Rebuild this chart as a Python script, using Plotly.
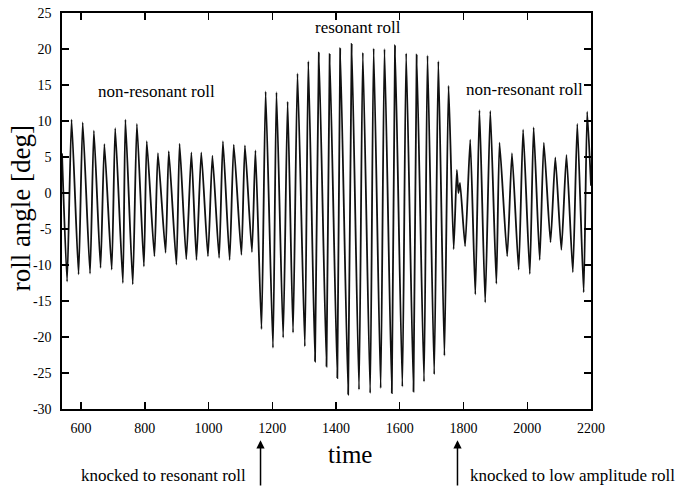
import plotly.graph_objects as go

# ---------------- data ----------------
peak_times = [570, 605, 640, 673, 707, 739, 775, 806, 841, 875, 909, 946, 977, 1012,
              1045, 1079, 1114, 1147, 1179, 1213, 1248, 1279, 1313, 1346, 1380, 1413,
              1449, 1484, 1518, 1552, 1585, 1620, 1653, 1687, 1721, 1753, 1779, 1821,
              1850, 1884, 1913, 1952, 1987, 2020, 2052, 2088, 2123, 2157, 2188]
peak_values = [10.2, 9.8, 8.65, 6.8, 9.0, 10.2, 9.6, 7.2, 5.55, 5.8, 6.85, 5.65, 5.65, 5.2,
               7.2, 6.7, 6.6, 5.9, 14.1, 14.0, 12.7, 16.6, 18.3, 19.5, 19.3, 20.1,
               20.7, 19.5, 20.1, 20.0, 20.5, 19.4, 19.2, 19.1, 18.3, 14.9, 3.2, 7.4,
               11.5, 11.4, 7.0, 5.55, 8.8, 9.1, 7.0, 4.95, 5.3, 9.6, 11.3]

trough_times = [556, 592, 628, 661, 696, 731, 762, 797, 830, 865, 899, 930, 962, 998,
                1033, 1066, 1103, 1136, 1166, 1202, 1234, 1265, 1302, 1334, 1370, 1404,
                1438, 1472, 1507, 1540, 1575, 1608, 1643, 1676, 1708, 1740, 1769, 1805,
                1837, 1868, 1903, 1937, 1973, 2008, 2039, 2073, 2107, 2143, 2177]
trough_values = [-12.3, -11.3, -11.2, -10.4, -10.65, -12.5, -12.7, -10.2, -8.8, -8.3, -9.95,
                 -9.2, -9.3, -8.8, -9.0, -9.3, -8.6, -8.2, -18.9, -21.5, -20.1, -19.4,
                 -21.3, -23.4, -24.1, -25.7, -28.0, -27.3, -27.8, -27.1, -27.8, -26.9,
                 -27.6, -26.2, -25.2, -22.6, -7.8, -7.4, -14.1, -15.2, -12.6, -8.8,
                 -10.65, -11.25, -9.3, -6.85, -7.9, -11.0, -13.8]

# start, small wiggle after the second knock, end
other_times = [540, 1784, 1789, 2200]
other_values = [5.5, 0.0, 1.4, 1.0]

knock_times = [1163, 1781]
knock_labels = ["knocked to resonant roll", "knocked to low amplitude roll"]

x_ticks = [600, 800, 1000, 1200, 1400, 1600, 1800, 2000, 2200]
y_ticks = [-30, -25, -20, -15, -10, -5, 0, 5, 10, 15, 20, 25]

regime_labels = ["non-resonant roll", "resonant roll", "non-resonant roll"]

# ---------------- build the series ----------------
pts = sorted(zip(peak_times + trough_times + other_times,
                 peak_values + trough_values + other_values))
t = [p[0] for p in pts]
v = [p[1] for p in pts]

FONT = "Liberation Serif"

fig = go.Figure()
fig.add_trace(go.Scatter(
    x=t, y=v, mode="lines",
    line=dict(color="#111111", width=1.8, shape="spline", smoothing=0.5),
    hoverinfo="skip", showlegend=False,
))

axis_common = dict(
    showgrid=False, zeroline=False, automargin=False,
    showline=True, linecolor="black", linewidth=1.6,
    mirror="ticks", ticks="inside", ticklen=7, tickwidth=1.4, tickcolor="black",
    tickfont=dict(family=FONT, size=14, color="black"),
)

fig.update_layout(
    width=683, height=487,
    margin=dict(l=62, r=92, t=13, b=78),
    paper_bgcolor="white", plot_bgcolor="white",
    xaxis=dict(range=[540, 2200], tickvals=x_ticks, ticktext=[str(x) for x in x_ticks],
               ticklabelstandoff=6, **axis_common),
    yaxis=dict(range=[-30, 25], tickvals=y_ticks, ticktext=[str(y) for y in y_ticks],
               ticklabelstandoff=6, **axis_common),
)

ann = []
# axis titles
ann.append(dict(text="roll angle [deg]", xref="paper", yref="paper", x=-0.078, y=0.506,
                textangle=-90, showarrow=False, xanchor="center", yanchor="middle",
                font=dict(family=FONT, size=27, color="black")))
ann.append(dict(text="time", xref="paper", yref="paper", x=0.544, y=-0.116,
                showarrow=False, xanchor="center", yanchor="middle",
                font=dict(family=FONT, size=25, color="black")))
# regime labels
reg_pos = [(0.178, 0.8015), (0.5595, 0.963), (0.875, 0.8066)]
for lab, (px, py) in zip(regime_labels, reg_pos):
    ann.append(dict(text=lab, xref="paper", yref="paper", x=px, y=py, showarrow=False,
                    xanchor="center", yanchor="middle",
                    font=dict(family=FONT, size=17, color="black")))
# knock arrows
for kt in knock_times:
    ann.append(dict(text="", x=kt, xref="x", y=-0.079, yref="paper",
                    showarrow=True, ax=0, ay=48, arrowhead=2, arrowsize=1.1,
                    arrowwidth=1.5, arrowcolor="black"))
ann.append(dict(text=knock_labels[0], xref="paper", yref="paper", x=0.352, y=-0.167,
                xanchor="right", yanchor="middle", showarrow=False,
                font=dict(family=FONT, size=17, color="black")))
ann.append(dict(text=knock_labels[1], xref="paper", yref="paper", x=0.767, y=-0.167,
                xanchor="left", yanchor="middle", showarrow=False,
                font=dict(family=FONT, size=17, color="black")))
fig.update_layout(annotations=ann)

fig.write_html("out.html",
               config={"displayModeBar": False, "staticPlot": True},
               post_script="document.body.style.margin='0';"
                           "document.body.style.overflow='hidden';")
